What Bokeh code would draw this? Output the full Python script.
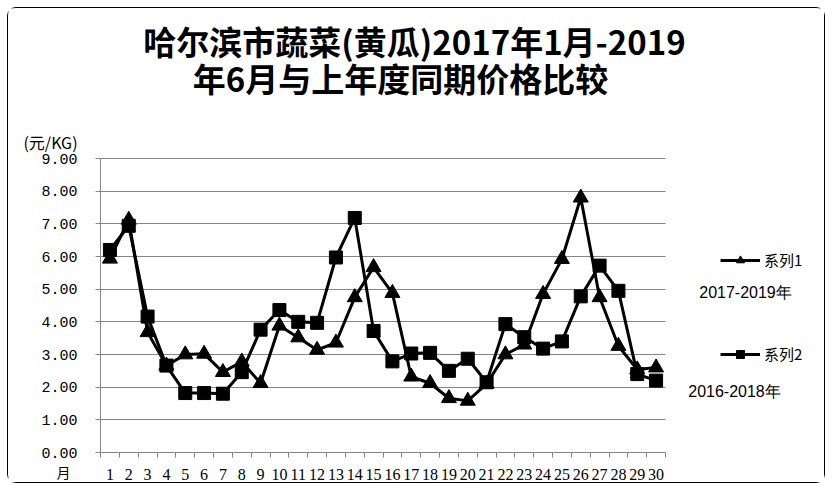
from bokeh.plotting import figure
from bokeh.models import (FixedTicker, PrintfTickFormatter, Range1d,
                          Legend, LegendItem, Label, ColumnDataSource)
from bokeh.embed import file_html
from bokeh.resources import INLINE

# ---- data ----
months = list(range(1, 31))
month_labels = [str(m) for m in months]
series1 = [5.93, 7.12, 3.68, 2.66, 3.00, 3.02, 2.46, 2.78, 2.12, 3.88,
           3.52, 3.14, 3.36, 4.75, 5.67, 4.88, 2.32, 2.12, 1.66, 1.58,
           2.10, 3.00, 3.30, 4.85, 5.92, 7.80, 4.75, 3.26, 2.54, 2.60]
series2 = [6.20, 6.94, 4.16, 2.66, 1.82, 1.82, 1.80, 2.46, 3.76, 4.36,
           4.00, 3.97, 5.97, 7.18, 3.72, 2.79, 3.03, 3.05, 2.50, 2.87,
           2.15, 3.93, 3.53, 3.18, 3.40, 4.78, 5.72, 4.95, 2.40, 2.20]
y_ticks = [0, 1, 2, 3, 4, 5, 6, 7, 8, 9]
series_names = ["系列1", "系列2"]
period_names = ["2017-2019年", "2016-2018年"]
title_lines = ["哈尔滨市蔬菜(黄瓜)2017年1月-2019", "年6月与上年度同期价格比较"]
unit_label = "(元/KG)"
x_unit_label = "月"

# ---- layout (pixels on the canvas) ----
W, H = 818, 476
PL, PR = 92, 657      # plot area left/right on canvas
PT, PB = 150, 444     # plot area top/bottom on canvas
x_lo, x_hi = 0.5, 30.5
y_lo, y_hi = 0.0, 9.0
kx = (PR - PL) / (x_hi - x_lo)
ky = (PB - PT) / (y_hi - y_lo)
x_range = Range1d(x_lo - PL / kx, x_hi + (W - PR) / kx)
y_range = Range1d(y_lo - (H - PB) / ky, y_hi + PT / ky)

src = ColumnDataSource(dict(x=months, s1=series1, s2=series2))

p = figure(width=W, height=H, x_range=x_range, y_range=y_range,
           output_backend="svg", toolbar_location=None,
           min_border=0, min_border_left=0, min_border_right=0,
           min_border_top=0, min_border_bottom=0)
p.styles = {"margin": "7px 0 0 7px", "border": "1px solid black",
            "border-radius": "9px"}
p.outline_line_color = None
p.background_fill_color = "white"
p.border_fill_color = "white"

AX = "#868686"

# category axis: labels at month centres, tick marks at category boundaries
xa = p.xaxis[0]
xa.fixed_location = 0
xa.bounds = (x_lo, x_hi)
xa.ticker = FixedTicker(ticks=months,
                        minor_ticks=[m - 0.5 for m in months] + [x_hi])
xa.major_label_overrides = {m: lab for m, lab in zip(months, month_labels)}
xa.major_tick_line_color = None
xa.major_tick_out = 0
xa.major_tick_in = 0
xa.minor_tick_out = 5
xa.minor_tick_in = 0
xa.minor_tick_line_color = AX
xa.axis_line_color = AX
xa.major_label_standoff = 11
xa.major_label_text_font = "Liberation Serif"
xa.major_label_text_font_size = "16px"
xa.major_label_text_color = "black"
p.xgrid.visible = False

ya = p.yaxis[0]
ya.fixed_location = x_lo
ya.bounds = (y_lo, y_hi)
ya.ticker = FixedTicker(ticks=y_ticks)
ya.formatter = PrintfTickFormatter(format="%.2f")
ya.major_tick_out = 5
ya.major_tick_in = 0
ya.minor_tick_line_color = None
ya.axis_line_color = AX
ya.major_tick_line_color = AX
ya.major_label_standoff = 18
ya.major_label_text_font = "Liberation Mono"
ya.major_label_text_font_size = "15px"
ya.major_label_text_color = "black"
p.ygrid.grid_line_color = AX
p.ygrid.grid_line_width = 1
p.ygrid.cross_bounds = (x_lo, x_hi)

l1 = p.line("x", "s1", source=src, line_color="black", line_width=3)
m1 = p.scatter("x", "s1", source=src, marker="triangle", size=15,
               fill_color="black", line_color="black")
l2 = p.line("x", "s2", source=src, line_color="black", line_width=3)
m2 = p.scatter("x", "s2", source=src, marker="square", size=13,
               fill_color="black", line_color="black")

legend = Legend(items=[LegendItem(label=series_names[0], renderers=[l1, m1]),
                       LegendItem(label=series_names[1], renderers=[l2, m2])],
                location=(712, 120), spacing=73, glyph_width=40, glyph_height=20,
                label_standoff=4, padding=0, margin=0,
                border_line_color=None, background_fill_alpha=0,
                label_text_font="Noto Sans CJK SC", label_text_font_size="15px",
                label_text_color="black")
p.add_layout(legend)

def add_label(text, px, py, size, bold=False, font="Noto Sans CJK SC"):
    # px, py: page position of the text centre (canvas starts at page 8,8)
    p.add_layout(Label(x=px - 8, y=H - (py - 8), x_units="screen", y_units="screen",
                       text=text, text_font=font, text_font_size=size,
                       text_font_style="bold" if bold else "normal",
                       text_align="center", text_baseline="middle",
                       text_color="black"))

add_label(title_lines[0], 414, 40, "33px", bold=True)
add_label(title_lines[1], 400, 77, "33px", bold=True)
add_label(period_names[0], 745, 292, "16px", font="Liberation Sans")
add_label(period_names[1], 734, 391, "16px", font="Liberation Sans")
add_label(unit_label, 50, 141, "16px")
add_label(x_unit_label, 63, 471, "14px")

open("out.html", "w").write(file_html(p, INLINE))
